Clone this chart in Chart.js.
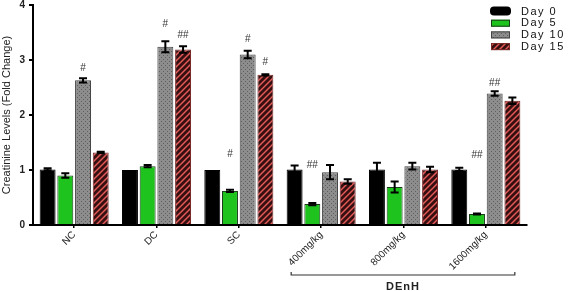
<!DOCTYPE html>
<html>
<head>
<meta charset="utf-8">
<script src="https://cdn.jsdelivr.net/npm/chart.js@4/dist/chart.umd.min.js"></script>
<style>
  body { margin: 0; background: #fff; }
  #wrap { width: 568px; height: 291px; }
</style>
</head>
<body>
<div id="wrap"><canvas id="creatChart" width="568" height="291"></canvas></div>
<script>
const categories = ['NC', 'DC', 'SC', '400mg/kg', '800mg/kg', '1600mg/kg'];
const seriesNames = ['Day 0', 'Day 5', 'Day 10', 'Day 15'];

const day0 = [1.01, 1.00, 1.00, 1.01, 1.01, 1.01];
const day5 = [0.90, 1.07, 0.62, 0.38, 0.69, 0.20];
const day10 = [2.63, 3.24, 3.10, 0.96, 1.07, 2.39];
const day15 = [1.32, 3.19, 2.73, 0.79, 1.01, 2.26];

const err0 = [0.02, 0.00, 0.00, 0.07, 0.12, 0.03];
const err5 = [0.04, 0.02, 0.02, 0.02, 0.10, 0.01];
const err10 = [0.04, 0.10, 0.07, 0.13, 0.06, 0.04];
const err15 = [0.01, 0.06, 0.01, 0.04, 0.05, 0.06];

// significance marks: [series index, category index, text, y level]
const marks = [
  [2, 0, '#', 2.85],
  [2, 1, '#', 3.65],
  [3, 1, '##', 3.45],
  [1, 2, '#', 1.29],
  [2, 2, '#', 3.38],
  [3, 2, '#', 2.96],
  [1, 3, '##', 1.09],
  [1, 5, '##', 1.27],
  [2, 5, '##', 2.58]
];

const groupLabel = 'DEnH';
const groupFrom = 3, groupTo = 5;
const yTicks = [0, 1, 2, 3, 4];

function dotPattern() {
  const c = document.createElement('canvas');
  c.width = 4; c.height = 4;
  const g = c.getContext('2d');
  g.fillStyle = '#8d8d8d';
  g.fillRect(0, 0, 4, 4);
  g.fillStyle = '#5e5e5e';
  g.fillRect(1, 1, 1, 1);
  g.fillRect(3, 3, 1, 1);
  return g.createPattern(c, 'repeat');
}

function stripePattern() {
  const c = document.createElement('canvas');
  c.width = 6; c.height = 6;
  const g = c.getContext('2d');
  g.fillStyle = '#e35a58';
  g.fillRect(0, 0, 6, 6);
  g.strokeStyle = '#361010';
  g.lineWidth = 2.8;
  g.beginPath();
  g.moveTo(-1, 7); g.lineTo(7, -1);
  g.moveTo(-4, 4); g.lineTo(4, -4);
  g.moveTo(2, 10); g.lineTo(10, 2);
  g.stroke();
  return g.createPattern(c, 'repeat');
}

const fills = ['#000000', '#1ec31e', dotPattern(), stripePattern()];
const edges = ['#000000', '#1a3a1a', '#444444', '#7a2a2a'];
const values = [day0, day5, day10, day15];
const errors = [err0, err5, err10, err15];

const extras = {
  id: 'extras',
  afterDatasetsDraw(chart) {
    const ctx = chart.ctx;
    const y = chart.scales.y;
    const x = chart.scales.x;
    ctx.save();
    // error bars
    ctx.strokeStyle = '#000';
    ctx.lineWidth = 2;
    values.forEach((vals, d) => {
      const meta = chart.getDatasetMeta(d);
      vals.forEach((v, i) => {
        const e = errors[d][i];
        if (!e) return;
        const bx = meta.data[i].x;
        const top = y.getPixelForValue(v + e);
        const bot = y.getPixelForValue(v - e);
        ctx.beginPath();
        ctx.moveTo(bx, top); ctx.lineTo(bx, bot);
        ctx.moveTo(bx - 4, top); ctx.lineTo(bx + 4, top);
        ctx.moveTo(bx - 4, bot); ctx.lineTo(bx + 4, bot);
        ctx.stroke();
      });
    });
    // significance marks
    ctx.fillStyle = '#333';
    ctx.font = '10px "Liberation Sans", Arial, sans-serif';
    ctx.textAlign = 'center';
    ctx.textBaseline = 'middle';
    marks.forEach(([d, i, t, lv]) => {
      const bx = chart.getDatasetMeta(d).data[i].x;
      ctx.fillText(t, bx, y.getPixelForValue(lv));
    });
    // group bracket
    const x1 = x.getPixelForValue(groupFrom) - 30;
    const x2 = x.getPixelForValue(groupTo) + 29;
    const by = 275;
    ctx.strokeStyle = '#333';
    ctx.lineWidth = 1.2;
    ctx.beginPath();
    ctx.moveTo(x1, by - 3); ctx.lineTo(x1, by); ctx.lineTo(x2, by); ctx.lineTo(x2, by - 3);
    ctx.stroke();
    ctx.fillStyle = '#222';
    ctx.font = 'bold 11px "Liberation Sans", Arial, sans-serif';
    ctx.letterSpacing = '1px';
    ctx.fillText(groupLabel, (x1 + x2) / 2, 287);
    // legend
    ctx.textAlign = 'left';
    ctx.font = '11px "Liberation Sans", Arial, sans-serif';
    ctx.letterSpacing = '1.5px';
    seriesNames.forEach((name, d) => {
      const ly = 11 + d * 11.7;
      if (d === 0) {
        ctx.fillStyle = '#000';
        ctx.beginPath();
        ctx.roundRect(490, ly - 4.5, 21, 9, 4);
        ctx.fill();
      } else {
        ctx.fillStyle = fills[d];
        ctx.fillRect(491, ly - 3, 19, 7);
        ctx.strokeStyle = edges[d];
        ctx.lineWidth = 1;
        ctx.strokeRect(491.5, ly - 2.5, 18, 6);
      }
      ctx.fillStyle = '#111';
      ctx.fillText(name, 521, ly + 0.5);
    });
    ctx.restore();
  }
};

new Chart(document.getElementById('creatChart'), {
  type: 'bar',
  data: {
    labels: categories,
    datasets: seriesNames.map((name, d) => ({
      label: name,
      data: values[d],
      backgroundColor: fills[d],
      borderColor: edges[d],
      borderWidth: 1,
      categoryPercentage: 0.86,
      barPercentage: 0.9
    }))
  },
  options: {
    responsive: false,
    animation: false,
    layout: { padding: { top: 5, right: 41, left: 0, bottom: 0 } },
    plugins: {
      legend: { display: false },
      tooltip: { enabled: false }
    },
    scales: {
      x: {
        afterFit: s => { s.height = 66; s.paddingLeft = 0; s.paddingRight = 0; },
        border: { color: '#000', width: 2 },
        grid: { offset: false, drawOnChartArea: false, color: '#000', lineWidth: 1.5, tickLength: 3 },
        ticks: {
          maxRotation: 45, minRotation: 45, color: '#222', padding: 1,
          font: { family: '"Liberation Sans", Arial, sans-serif', size: 10 }
        }
      },
      y: {
        min: 0, max: 4,
        afterFit: s => { s.width = 33; s.paddingTop = 0; s.paddingBottom = 0; },
        afterBuildTicks: s => { s.ticks = yTicks.map(v => ({ value: v })); },
        border: { color: '#000', width: 2 },
        grid: { drawOnChartArea: false, color: '#000', lineWidth: 2, tickLength: 4 },
        ticks: {
          color: '#222', padding: 4,
          font: { family: '"Liberation Sans", Arial, sans-serif', size: 10, weight: 'bold' }
        },
        title: {
          display: true,
          text: 'Creatinine Levels (Fold Change)',
          color: '#222',
          padding: 0,
          font: { family: '"Liberation Sans", Arial, sans-serif', size: 11 }
        }
      }
    }
  },
  plugins: [extras]
});
</script>
</body>
</html>
